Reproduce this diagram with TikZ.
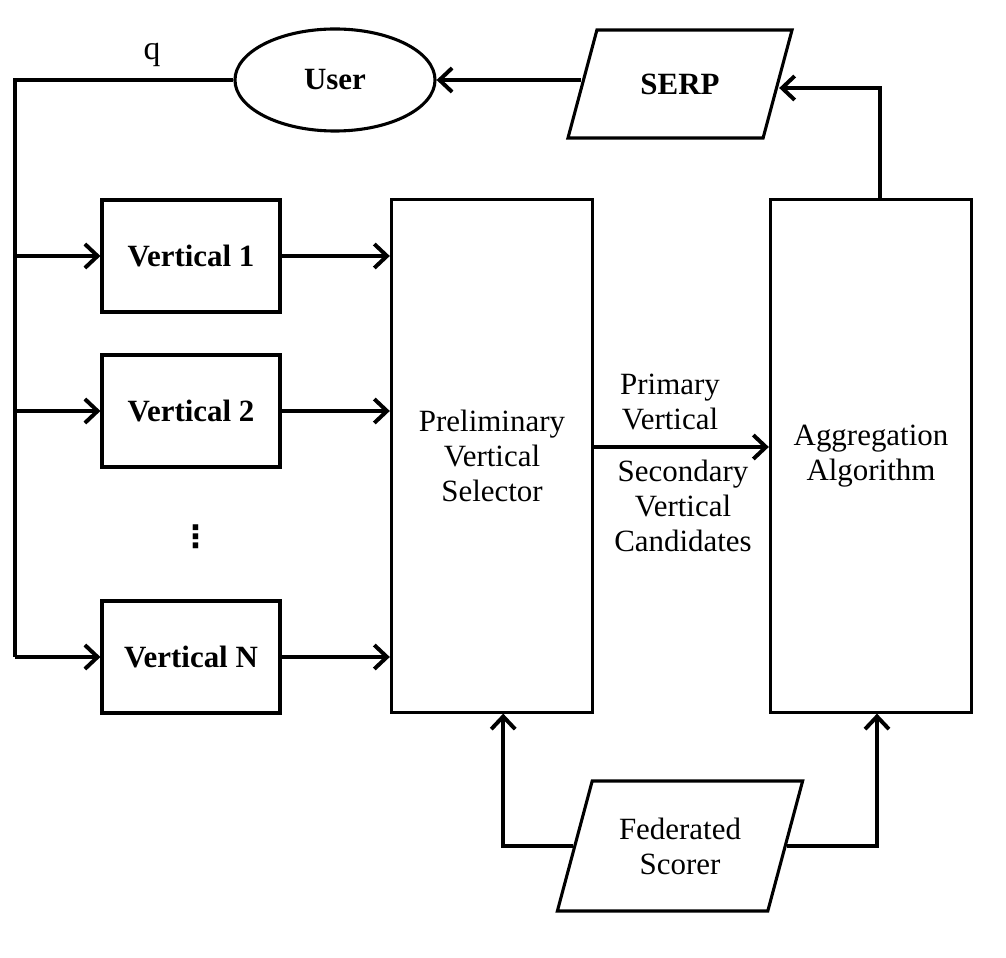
\documentclass[tikz,border=0pt]{standalone}
\usepackage{fontspec}
\setmainfont{Liberation Serif}
\newfontfamily\symfont{DejaVu Sans}
\usetikzlibrary{shapes.geometric,arrows.meta}
\tikzset{
  lbl/.style={font=\fontsize{22}{25}\selectfont, align=center},
  blk/.style={draw, line width=2.2pt, minimum width=4.45cm, minimum height=2.8cm,
    font=\fontsize{22}{25}\selectfont\bfseries},
  tall/.style={draw, line width=2.2pt, minimum width=5.03cm, minimum height=12.8cm, lbl},
  io/.style={draw, line width=2.2pt, trapezium, trapezium left angle=75,
    trapezium right angle=105, trapezium stretches body, inner xsep=0pt, lbl},
  arr/.style={line width=2.8pt, -{Straight Barb[length=9pt,width=17pt]}},
  ln/.style={line width=2.8pt},
}
\begin{document}
\begin{tikzpicture}[x=0.025cm, y=-0.025cm]
  \useasboundingbox (0,0) rectangle (1006,958);

  % top row
  \node[draw, ellipse, line width=2.2pt, minimum width=5cm, minimum height=2.55cm,
    font=\fontsize{22}{25}\selectfont\bfseries] (user) at (335,80) {User};
  \node[io, inner ysep=31pt, minimum width=5.6cm, font=\fontsize{22}{25}\selectfont\bfseries]
    (serp) at (680,84) {SERP};
  \node[lbl, font=\fontsize{24}{25}\selectfont] (qlbl) at (152,55) {q};

  % verticals
  \node[blk] (v1) at (191,256) {Vertical 1};
  \node[blk] (v2) at (191,411) {Vertical 2};
  \node[font=\fontsize{22}{25}\selectfont\symfont\bfseries] (dots) at (196,537) {⋮};
  \node[blk] (vn) at (191,657) {Vertical N};

  % selector and aggregation
  \node[tall] (pvs) at (492,456) {Preliminary\\Vertical\\Selector};
  \node[tall] (agg) at (871,456) {Aggregation\\Algorithm};
  \node[lbl] (prim) at (670,402) {Primary\\Vertical};
  \node[lbl] (sec) at (683,506) {Secondary\\Vertical\\Candidates};

  \node[io, inner ysep=26pt, minimum width=6.13cm] (fed) at (680,846) {Federated\\Scorer};

  % query fan-out
  \coordinate (qtop) at (15,80);
  \coordinate (qbot) at (15,657);
  \draw[ln] (user.west) -- (qtop) -- (qbot);
  \draw[arr] (v1.west -| qtop) -- (v1.west);
  \draw[arr] (v2.west -| qtop) -- (v2.west);
  \draw[arr] (qbot) -- (vn.west);

  \draw[arr] (v1.east) -- (v1.east -| pvs.west);
  \draw[arr] (v2.east) -- (v2.east -| pvs.west);
  \draw[arr] (vn.east) -- (vn.east -| pvs.west);

  \draw[arr] ([yshift=0.225cm]pvs.east) -- ([yshift=0.225cm]agg.west);

  \draw[arr] ([xshift=0.22cm]agg.north) |- ([yshift=-0.1cm]serp.east);
  \draw[arr] ([yshift=0.1cm]serp.west) -- ([yshift=0.1cm]serp.west -| user.east);

  \draw[arr] (fed.west) -| ([xshift=0.28cm]pvs.south);
  \draw[arr] (fed.east) -| ([xshift=0.15cm]agg.south);
\end{tikzpicture}
\end{document}
